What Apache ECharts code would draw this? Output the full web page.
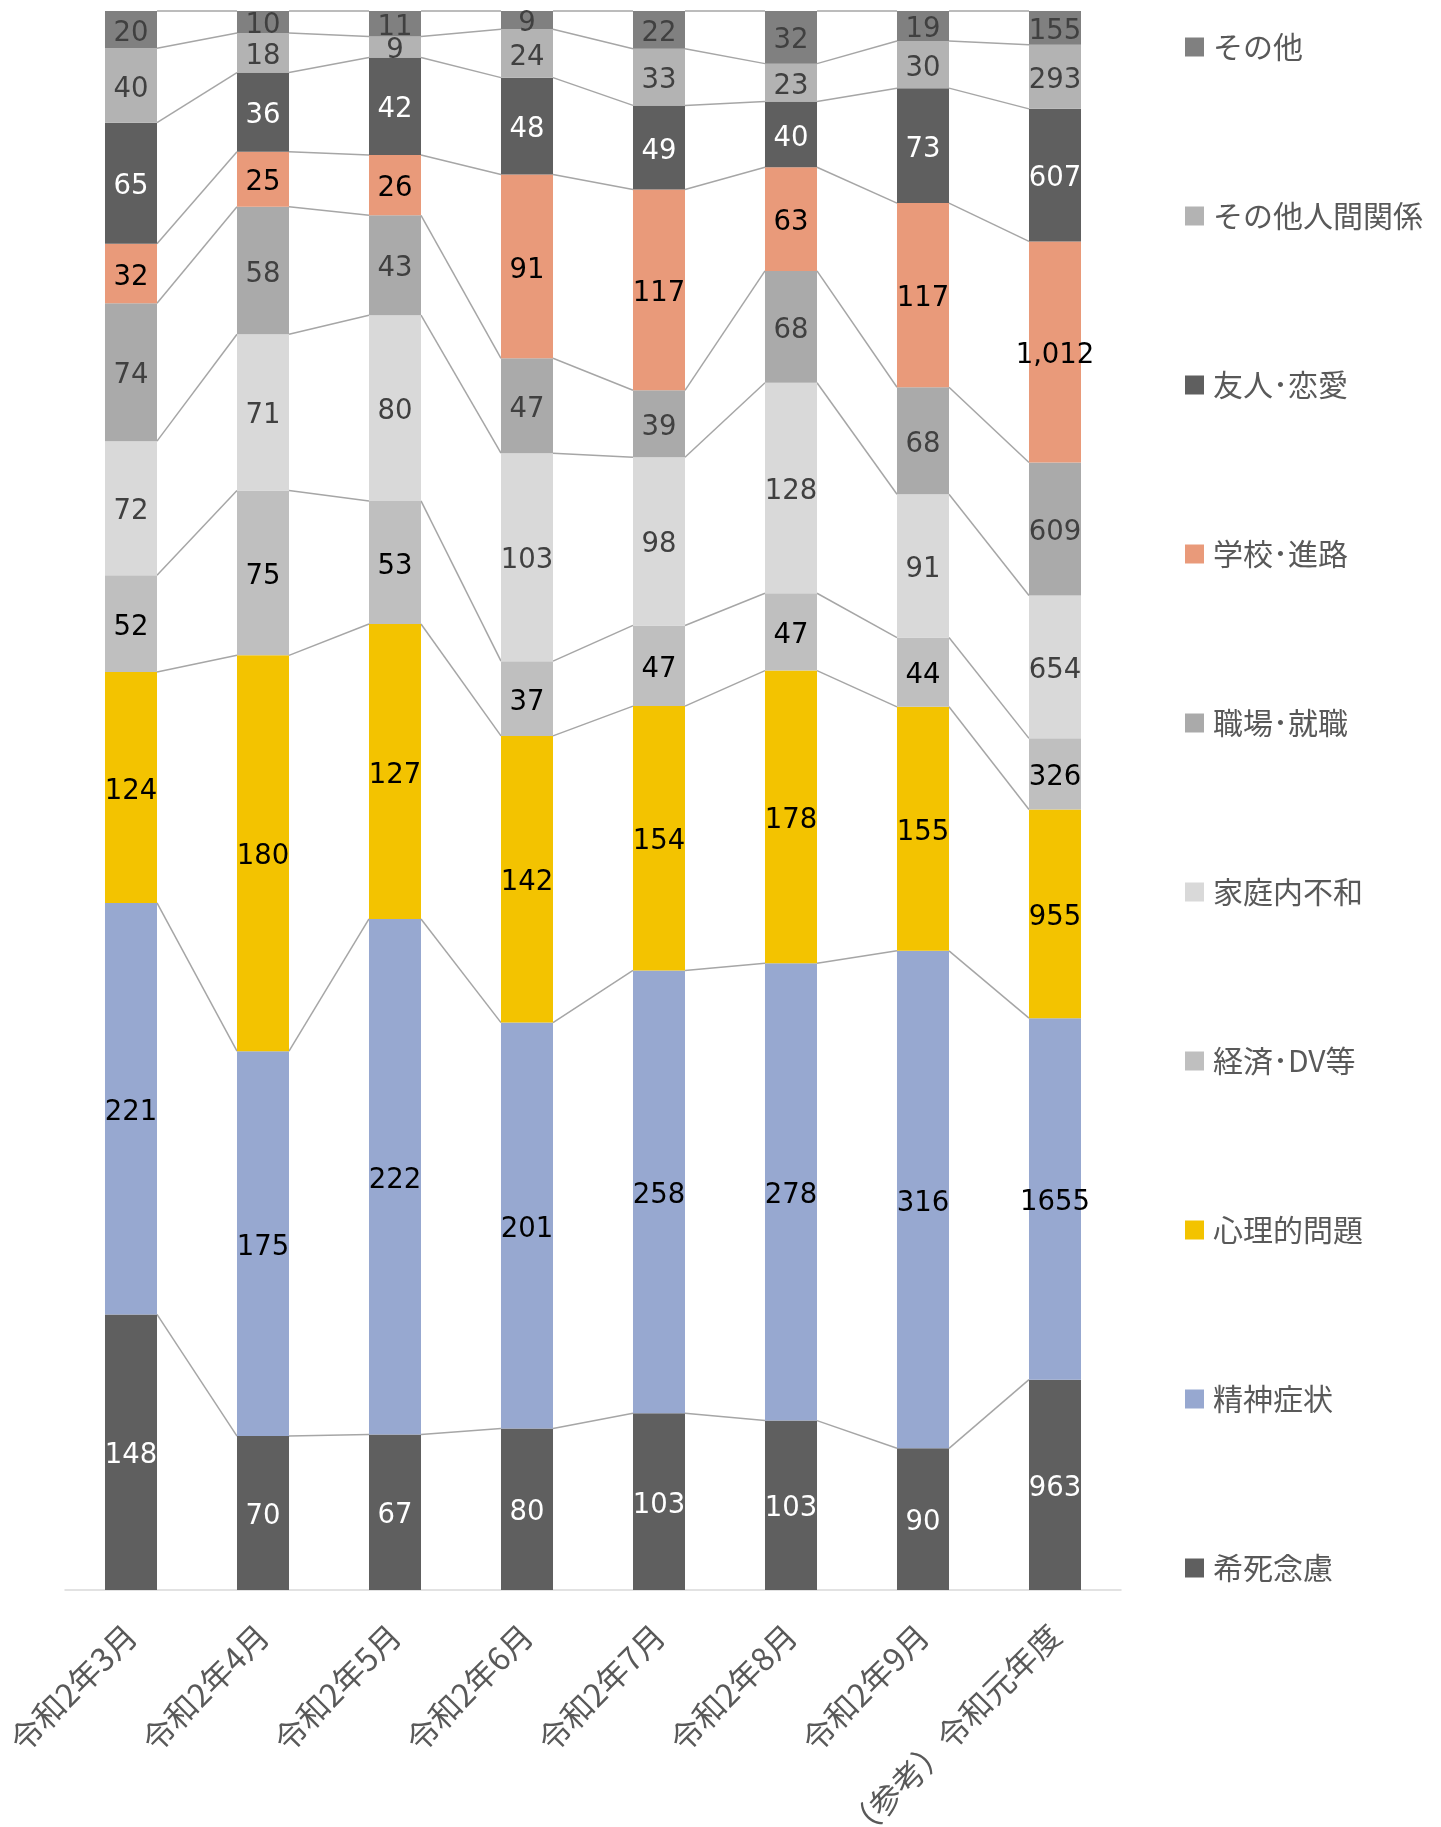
<!DOCTYPE html>
<html>
<head>
<meta charset="utf-8">
<style>
  html, body { margin: 0; padding: 0; background: #ffffff; }
  #chart { width: 1441px; height: 1827px; }
</style>
<script src="https://cdn.jsdelivr.net/npm/echarts@6/dist/echarts.min.js"></script>
</head>
<body>
<div id="chart"></div>
<script>
// Categories (months of Reiwa 2, plus the previous fiscal year for reference)
const categories = ['令和2年3月', '令和2年4月', '令和2年5月', '令和2年6月', '令和2年7月', '令和2年8月', '令和2年9月', '（参考）令和元年度'];

// Consultation counts per topic, bottom of the stack first
const suicidalIdeation   = [148, 70, 67, 80, 103, 103, 90, 963];
const mentalSymptoms     = [221, 175, 222, 201, 258, 278, 316, 1655];
const psychological      = [124, 180, 127, 142, 154, 178, 155, 955];
const economicDv         = [52, 75, 53, 37, 47, 47, 44, 326];
const familyDiscord      = [72, 71, 80, 103, 98, 128, 91, 654];
const workplaceJob       = [74, 58, 43, 47, 39, 68, 68, 609];
const schoolCareer       = [32, 25, 26, 91, 117, 63, 117, 1012];
const friendsRomance     = [65, 36, 42, 48, 49, 40, 73, 607];
const otherRelationships = [40, 18, 9, 24, 33, 23, 30, 293];
const others             = [20, 10, 11, 9, 22, 32, 19, 155];

const seriesValues = [suicidalIdeation, mentalSymptoms, psychological, economicDv, familyDiscord, workplaceJob, schoolCareer, friendsRomance, otherRelationships, others];

// Series / legend labels (half-width middle dot)
const legendNames = ['希死念慮', '精神症状', '心理的問題', '経済･DV等', '家庭内不和', '職場･就職', '学校･進路', '友人･恋愛', 'その他人間関係', 'その他'];

const barColors   = ['#5f5f5f', '#97a8d0', '#f3c300', '#bfbfbf', '#d9d9d9', '#aaaaaa', '#e99a7a', '#5f5f5f', '#b3b3b3', '#808080'];
const labelColors = ['#ffffff', '#000000', '#000000', '#000000', '#404040', '#404040', '#000000', '#ffffff', '#404040', '#404040'];
// 精神症状 counts are printed without a thousands separator
const useSeparator = [true, false, true, true, true, true, true, true, true, true];

const BAR_RATIO = 0.394;

const totals = categories.map((_, i) => seriesValues.reduce((s, arr) => s + arr[i], 0));
const pct = (s, i) => seriesValues[s][i] / totals[i] * 100;
const cumTop = (s, i) => {
  let c = 0;
  for (let k = 0; k <= s; k++) c += seriesValues[k][i];
  return c / totals[i] * 100;
};
const fmt = (n, sep) => sep ? n.toLocaleString('en-US') : String(n);

const series = seriesValues.map((vals, s) => ({
  name: legendNames[s],
  type: 'bar',
  stack: 'total',
  barWidth: (BAR_RATIO * 100) + '%',
  itemStyle: { color: barColors[s] },
  label: {
    show: true,
    position: 'inside',
    offset: [0, 4],
    color: labelColors[s],
    fontFamily: 'DejaVu Sans',
    fontSize: 27.5,
    formatter: p => fmt(p.data.count, useSeparator[s])
  },
  emphasis: { disabled: true },
  data: vals.map((v, i) => ({ value: pct(s, i), count: v }))
}));

// Connector lines between neighbouring bars at each segment boundary
const connectorData = [];
for (let s = 0; s < seriesValues.length; s++) {
  for (let i = 0; i < categories.length - 1; i++) {
    connectorData.push([i, cumTop(s, i), cumTop(s, i + 1)]);
  }
}
series.push({
  type: 'custom',
  silent: true,
  z: 1,
  renderItem: (params, api) => {
    const i = api.value(0);
    const a = api.coord([i, api.value(1)]);
    const b = api.coord([i + 1, api.value(2)]);
    const half = api.size([1, 0])[0] * BAR_RATIO / 2;
    return {
      type: 'line',
      shape: { x1: a[0] + half, y1: a[1], x2: b[0] - half, y2: b[1] },
      style: { stroke: '#a6a6a6', lineWidth: 1.5 }
    };
  },
  data: connectorData
});

const chart = echarts.init(document.getElementById('chart'), null, { renderer: 'canvas' });
chart.setOption({
  animation: false,
  backgroundColor: '#ffffff',
  grid: { left: 65, right: 320, top: 11, bottom: 237, containLabel: false, outerBoundsMode: 'none' },
  legend: {
    orient: 'vertical',
    left: 1180,
    top: 26,
    itemWidth: 19,
    itemHeight: 19,
    itemGap: 137,
    icon: 'rect',
    data: legendNames.slice().reverse(),
    textStyle: { fontFamily: 'Noto Sans CJK JP', fontSize: 30, color: '#595959', lineHeight: 32, padding: [0, 0, 0, 4] }
  },
  xAxis: {
    type: 'category',
    data: categories,
    axisLine: { lineStyle: { color: '#d9d9d9', width: 1.5 } },
    axisTick: { show: false },
    axisLabel: {
      rotate: 45,
      margin: 40,
      interval: 0,
      fontFamily: 'Noto Sans CJK JP',
      fontSize: 32,
      color: '#595959'
    }
  },
  yAxis: {
    type: 'value',
    min: 0,
    max: 100,
    show: false,
    splitLine: { show: false }
  },
  series: series
});
</script>
</body>
</html>
